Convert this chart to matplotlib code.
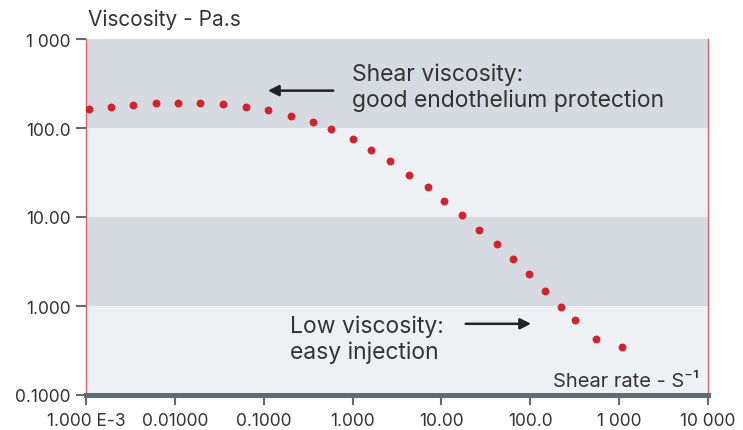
import matplotlib
matplotlib.use("Agg")
import matplotlib.pyplot as plt
import numpy as np

plt.rcParams['font.family'] = ['Inter', 'DejaVu Sans']

shear_rate = [0.00108, 0.0019, 0.0034, 0.0062, 0.0108, 0.019, 0.035, 0.063, 0.111,
              0.202, 0.357, 0.57, 1.0, 1.61, 2.63, 4.3, 7.0, 10.6, 17.0, 26.3,
              41.7, 63.1, 97.7, 148, 224, 316, 550, 1070]
viscosity = [163, 172, 181, 191, 191, 191, 186, 172, 159,
             136, 117, 97, 75, 57, 43, 30, 21.7, 15.0, 10.5, 7.1,
             5.0, 3.4, 2.3, 1.48, 0.98, 0.70, 0.43, 0.35]

x_ticks = [1e-3, 1e-2, 1e-1, 1, 10, 100, 1000, 10000]
x_labels = ["1.000 E-3", "0.01000", "0.1000", "1.000", "10.00", "100.0", "1 000", "10 000"]
y_ticks = [0.1, 1, 10, 100, 1000]
y_labels = ["0.1000", "1.000", "10.00", "100.0", "1 000"]

dark_band = "#d5dbe1"
light_band = "#eef1f4"
red = "#d7202a"
axis_col = "#5a6e78"
txt = "#333333"

fig = plt.figure(figsize=(7.43, 4.31), dpi=100)
ax = fig.add_axes([86/743, 1-396/431, 622/743, 356/431])
ax.set_xscale('log')
ax.set_yscale('log')
ax.set_xlim(1e-3, 1e4)
ax.set_ylim(0.1, 1000)

for lo, hi, c in [(100, 1000, dark_band), (10, 100, light_band), (1, 10, dark_band), (0.1, 1, light_band)]:
    ax.axhspan(lo, hi, color=c, zorder=0, lw=0)

ax.scatter(shear_rate, viscosity, s=32, color=red, zorder=3, lw=0)

ax.spines['top'].set_visible(False)
ax.spines['left'].set_color('#e06070')
ax.spines['left'].set_linewidth(1.0)
ax.spines['right'].set_color('#e06070')
ax.spines['right'].set_linewidth(1.0)
ax.spines['bottom'].set_color(axis_col)
ax.spines['bottom'].set_linewidth(3.6)
ax.spines['bottom'].set_zorder(4)

ax.set_xticks(x_ticks)
ax.set_xticklabels(x_labels)
ax.set_yticks(y_ticks)
ax.set_yticklabels(y_labels)
ax.minorticks_off()
ax.tick_params(axis='both', colors=axis_col, length=7, width=1.5, labelcolor=txt, labelsize=12.5)
ax.tick_params(axis='x', pad=5)
ax.tick_params(axis='y', pad=4)

fig.text(88/743, 1-20/431, "Viscosity - Pa.s", fontsize=15, color=txt, ha='left', va='center')
ax.text(0.985, 0.024, "Shear rate - S⁻¹", transform=ax.transAxes, fontsize=14.5,
        color=txt, ha='right', va='baseline')

ax.text(0.428, 0.865, "Shear viscosity:\ngood endothelium protection", transform=ax.transAxes,
        fontsize=16.5, color=txt, ha='left', va='center', linespacing=1.2)
ax.annotate("", xy=(0.288, 0.855), xytext=(0.402, 0.855), xycoords='axes fraction',
            arrowprops=dict(arrowstyle='-|>', color='#222222', lw=1.8, mutation_scale=16))

ax.text(0.328, 0.157, "Low viscosity:\neasy injection", transform=ax.transAxes,
        fontsize=16.5, color=txt, ha='left', va='center', linespacing=1.2)
ax.annotate("", xy=(0.72, 0.2), xytext=(0.606, 0.2), xycoords='axes fraction',
            arrowprops=dict(arrowstyle='-|>', color='#222222', lw=1.8, mutation_scale=16))

fig.savefig("out.png", dpi=100)
